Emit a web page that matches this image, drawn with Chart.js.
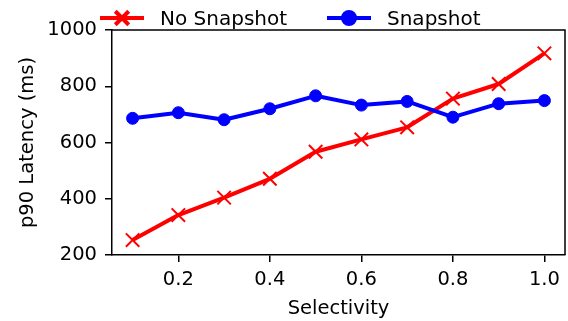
<!DOCTYPE html>
<html>
<head>
<meta charset="utf-8">
<script src="https://cdn.jsdelivr.net/npm/chart.js@4/dist/chart.umd.min.js"></script>
<style>
  html, body { margin: 0; padding: 0; background: #fff; }
  #wrap { width: 568px; height: 321px; }
</style>
</head>
<body>
<div id="wrap"><canvas id="latency-chart" width="568" height="321"></canvas></div>
<script>
// values
var selectivity = [0.1, 0.2, 0.3, 0.4, 0.5, 0.6, 0.7, 0.8, 0.9, 1.0];
var noSnapshot = [253, 342, 404, 471, 567, 611, 654, 756, 808, 917];
var snapshot = [686, 706, 681, 720, 766, 733, 746, 690, 738, 749];
var xTicks = [0.2, 0.4, 0.6, 0.8, 1.0];
var seriesNames = ['No Snapshot', 'Snapshot'];

var FONT_SIZE = 19.5;
Chart.defaults.font.family = 'DejaVu Sans';
Chart.defaults.font.size = FONT_SIZE;
Chart.defaults.color = '#000';

// big markers would otherwise make chart.js shrink the plot area on the right
Chart.LineController.prototype.getMaxOverflow = function() { return 0; };

function toPoints(values) {
    return selectivity.map(function(x, i) { return {x: x, y: values[i]}; });
}

// box around the plot + legend above it, like the matplotlib one
var framePlugin = {
    id: 'frame',
    afterDatasetsDraw: function(chart) {
        var a = chart.chartArea;
        var ctx = chart.ctx;
        ctx.save();
        ctx.strokeStyle = '#000';
        ctx.lineWidth = 1.5;
        ctx.beginPath();
        ctx.moveTo(a.left, a.top);
        ctx.lineTo(a.right, a.top);
        ctx.lineTo(a.right, a.bottom);
        ctx.stroke();
        ctx.restore();
    },
    afterDraw: function(chart) {
        var ctx = chart.ctx;
        var items = [
            {ds: chart.data.datasets[0], x: 100},
            {ds: chart.data.datasets[1], x: 327}
        ];
        ctx.save();
        items.forEach(function(it) {
            var ds = it.ds;
            var y = 18;
            ctx.strokeStyle = ds.borderColor;
            ctx.lineWidth = 4;
            ctx.beginPath();
            ctx.moveTo(it.x, y);
            ctx.lineTo(it.x + 44, y);
            ctx.stroke();
            Chart.helpers.drawPoint(ctx, {
                pointStyle: ds.pointStyle,
                radius: ds.pointRadius,
                borderWidth: ds.pointBorderWidth
            }, it.x + 22, y);
            if (ds.pointStyle === 'circle') {
                ctx.fillStyle = ds.pointBackgroundColor;
                ctx.beginPath();
                ctx.arc(it.x + 22, y, ds.pointRadius, 0, Math.PI * 2);
                ctx.fill();
            }
            ctx.fillStyle = '#000';
            ctx.font = '20px "DejaVu Sans"';
            ctx.textBaseline = 'alphabetic';
            ctx.fillText(ds.label, it.x + 60, 25);
        });
        ctx.restore();
    }
};

var ctx = document.getElementById('latency-chart').getContext('2d');
var latencyChart = new Chart(ctx, {
    type: 'line',
    data: {
        datasets: [{
            label: seriesNames[0],
            data: toPoints(noSnapshot),
            borderColor: '#ff0000',
            backgroundColor: '#ff0000',
            borderWidth: 4,
            borderJoinStyle: 'round',
            pointStyle: 'crossRot',
            pointRadius: 9.5,
            pointBorderWidth: 2,
            pointBorderColor: '#ff0000',
            pointBackgroundColor: '#ff0000',
            clip: false,
            order: 1
        }, {
            label: seriesNames[1],
            data: toPoints(snapshot),
            borderColor: '#0000ff',
            backgroundColor: '#0000ff',
            borderWidth: 4,
            borderJoinStyle: 'round',
            pointStyle: 'circle',
            pointRadius: 6,
            pointBorderWidth: 1,
            pointBorderColor: '#0000ff',
            pointBackgroundColor: '#0000ff',
            clip: false,
            order: 0
        }]
    },
    options: {
        responsive: false,
        animation: false,
        layout: { padding: { top: 30, right: 3, left: 0, bottom: 0 } },
        plugins: {
            legend: { display: false },
            tooltip: { enabled: false }
        },
        scales: {
            x: {
                type: 'linear',
                min: 0.055,
                max: 1.045,
                afterBuildTicks: function(scale) {
                    scale.ticks = xTicks.map(function(v) { return {value: v}; });
                },
                afterFit: function(scale) {
                    scale.height = 66;
                    scale.paddingLeft = 0;
                    scale.paddingRight = 0;
                },
                ticks: {
                    padding: 6,
                    maxRotation: 0,
                    callback: function(value) { return value.toFixed(1); }
                },
                grid: {
                    drawOnChartArea: false,
                    drawTicks: true,
                    tickLength: 7,
                    color: '#000',
                    lineWidth: 1.5
                },
                border: { display: true, color: '#000', width: 1.5 },
                title: {
                    display: true,
                    text: 'Selectivity',
                    padding: { top: 0, bottom: 0 }
                }
            },
            y: {
                min: 200,
                max: 1000,
                afterFit: function(scale) { scale.width = 112; },
                ticks: {
                    stepSize: 200,
                    padding: 8,
                    callback: function(value) { return String(value); }
                },
                grid: {
                    drawOnChartArea: false,
                    drawTicks: true,
                    tickLength: 7,
                    color: '#000',
                    lineWidth: 1.5
                },
                border: { display: true, color: '#000', width: 1.5 },
                title: {
                    display: true,
                    text: 'p90 Latency (ms)',
                    padding: { top: 16, bottom: 0 }
                }
            }
        }
    },
    plugins: [framePlugin]
});
</script>
</body>
</html>
